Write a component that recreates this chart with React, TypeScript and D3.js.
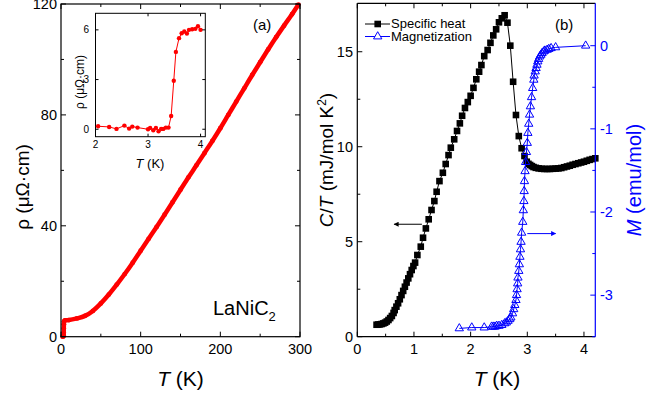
import React from 'react';
import * as d3 from 'd3';

// resistivity of LaNiC2, main panel (T in K, rho in µΩ·cm)
const rhoT = [2, 2.5, 3, 3.3, 3.4, 3.5, 3.6, 3.8, 5, 10, 20, 30, 40, 50, 60, 70, 80, 90, 100, 110, 120, 130, 140, 150, 160, 170, 180, 190, 200, 210, 220, 230, 240, 250, 260, 270, 280, 290, 298];
const rhoV = [0, 0.1, 0.2, 0.5, 1.5, 3, 4.5, 5.5, 5.9, 6.0, 6.6, 7.5, 9.3, 12.0, 15.2, 18.8, 22.6, 26.7, 31.0, 35.3, 39.6, 44.0, 48.5, 53.0, 57.5, 61.8, 66.2, 70.6, 75.2, 80.0, 84.8, 89.6, 94.4, 99.0, 103.6, 108.0, 112.2, 116.3, 119.8];

// inset: low temperature resistivity
const insetT = [2.05, 2.26, 2.40, 2.55, 2.64, 2.70, 2.80, 3.0, 3.04, 3.10, 3.15, 3.20, 3.25, 3.29, 3.34, 3.39, 3.44, 3.49, 3.53, 3.59, 3.64, 3.69, 3.74, 3.78, 3.84, 3.90, 3.95, 4.0];
const insetRho = [0.18, 0.14, 0.02, 0.22, 0.04, 0.16, 0.1, 0, 0.08, -0.06, 0.08, -0.12, 0.02, 0.02, 0.1, 0.1, 0.8, 2.93, 4.67, 5.5, 5.8, 5.9, 5.78, 6.0, 6.04, 6.06, 6.22, 6.0];

// specific heat C/T (mJ/mol K^2)
const heatT = [0.34, 0.37, 0.40, 0.43, 0.46, 0.49, 0.52, 0.55, 0.58, 0.61, 0.64, 0.66, 0.69, 0.72, 0.75, 0.78, 0.81, 0.84, 0.87, 0.90, 0.93, 0.96, 0.99, 1.02, 1.06, 1.12, 1.16, 1.21, 1.26, 1.31, 1.36, 1.40, 1.45, 1.51, 1.56, 1.61, 1.65, 1.71, 1.76, 1.81, 1.85, 1.90, 1.95, 2.00, 2.05, 2.10, 2.15, 2.19, 2.24, 2.30, 2.35, 2.40, 2.45, 2.50, 2.55, 2.60, 2.65, 2.70, 2.75, 2.80, 2.85, 2.90, 2.95, 2.99, 3.02, 3.05, 3.08, 3.11, 3.15, 3.20, 3.25, 3.30, 3.35, 3.40, 3.45, 3.50, 3.55, 3.60, 3.65, 3.70, 3.75, 3.80, 3.85, 3.90, 3.95, 4.00, 4.05, 4.10, 4.15, 4.20];
const heatC = [0.63, 0.64, 0.65, 0.67, 0.70, 0.74, 0.80, 0.88, 0.98, 1.09, 1.25, 1.40, 1.58, 1.76, 1.97, 2.19, 2.41, 2.63, 2.85, 3.07, 3.29, 3.51, 3.72, 3.90, 4.30, 4.74, 5.21, 5.70, 6.18, 6.67, 7.14, 7.63, 8.19, 8.63, 9.09, 9.56, 9.95, 10.39, 10.83, 11.23, 11.63, 12.04, 12.35, 12.68, 13.10, 13.55, 13.95, 14.30, 14.77, 15.09, 15.47, 15.86, 16.18, 16.55, 16.76, 16.92, 16.53, 15.32, 13.42, 11.67, 10.56, 9.92, 9.51, 9.21, 9.10, 9.04, 8.98, 8.93, 8.89, 8.86, 8.84, 8.83, 8.83, 8.83, 8.84, 8.85, 8.86, 8.88, 8.92, 8.96, 9.00, 9.05, 9.09, 9.13, 9.17, 9.21, 9.26, 9.31, 9.35, 9.39];

// magnetization (emu/mol)
const magT = [1.80, 2.02, 2.24, 2.37, 2.40, 2.43, 2.46, 2.50, 2.55, 2.60, 2.63, 2.66, 2.69, 2.71, 2.74, 2.76, 2.78, 2.80, 2.81, 2.82, 2.83, 2.835, 2.85, 2.86, 2.87, 2.88, 2.89, 2.90, 2.92, 2.93, 2.94, 2.945, 2.95, 2.96, 2.97, 2.985, 3.0, 3.01, 3.025, 3.04, 3.055, 3.075, 3.095, 3.115, 3.12, 3.14, 3.155, 3.17, 3.185, 3.20, 3.22, 3.24, 3.26, 3.29, 3.31, 3.35, 3.38, 3.42, 3.50, 4.03];
const magM = [-3.40, -3.39, -3.39, -3.38, -3.38, -3.38, -3.37, -3.37, -3.36, -3.34, -3.33, -3.31, -3.29, -3.27, -3.22, -3.17, -3.12, -3.06, -3.0, -2.93, -2.86, -2.79, -2.71, -2.63, -2.54, -2.45, -2.36, -2.25, -2.12, -1.98, -1.87, -1.75, -1.63, -1.51, -1.40, -1.28, -1.17, -1.05, -0.94, -0.83, -0.73, -0.62, -0.51, -0.41, -0.36, -0.31, -0.27, -0.23, -0.19, -0.16, -0.13, -0.11, -0.09, -0.07, -0.06, -0.05, -0.04, -0.03, -0.02, 0.0];

const FONT = "'Liberation Sans', Arial, Helvetica, sans-serif";
const BLUE = '#0000ff';
const RED = '#ff0000';

// scales
const xA = d3.scaleLinear().domain([0, 300]).range([61, 300]);
const yA = d3.scaleLinear().domain([0, 120]).range([336.7, 4]);
const xI = d3.scaleLinear().domain([2, 4.09]).range([95.5, 205.3]);
const yI = d3.scaleLinear().domain([-0.45, 7]).range([136.7, 13.3]);
const xB = d3.scaleLinear().domain([0, 4.2]).range([357.3, 595.3]);
const yC = d3.scaleLinear().domain([0, 17.55]).range([336.7, 3.3]);
const yM = d3.scaleLinear().domain([-3.5, 0.51]).range([336.7, 3.3]);

type Scale = d3.ScaleLinear<number, number>;

// inward ticks on one side of a frame
function Ticks({ scale, values, side, pos, len, color = '#000' }: { scale: Scale; values: number[]; side: 'b' | 't' | 'l' | 'r'; pos: number; len: number; color?: string }) {
  return (
    <g stroke={color} strokeWidth={1}>
      {values.map((v, i) => {
        const p = scale(v);
        if (side === 'b') return <line key={i} x1={p} x2={p} y1={pos} y2={pos - len} />;
        if (side === 't') return <line key={i} x1={p} x2={p} y1={pos} y2={pos + len} />;
        if (side === 'l') return <line key={i} x1={pos} x2={pos + len} y1={p} y2={p} />;
        return <line key={i} x1={pos} x2={pos - len} y1={p} y2={p} />;
      })}
    </g>
  );
}

export default function App() {
  const rhoPts = rhoT.map((t, i) => [t, rhoV[i]] as [number, number]);
  const insetPts = insetT.map((t, i) => [t, insetRho[i]] as [number, number]);
  const heatPts = heatT.map((t, i) => [t, heatC[i]] as [number, number]);
  const magPts = magT.map((t, i) => [t, magM[i]] as [number, number]);

  const rhoLine = d3.line<[number, number]>().x(d => xA(d[0])).y(d => yA(d[1])).curve(d3.curveMonotoneX);
  const insetLine = d3.line<[number, number]>().x(d => xI(d[0])).y(d => yI(d[1]));
  const heatLine = d3.line<[number, number]>().x(d => xB(d[0])).y(d => yC(d[1]));
  const magLine = d3.line<[number, number]>().x(d => xB(d[0])).y(d => yM(d[1]));
  const tri = d3.symbol().type(d3.symbolTriangle).size(30)() as string;

  const xAmaj = [0, 100, 200, 300];
  const xAmin = [50, 150, 250];
  const yAmaj = [0, 40, 80, 120];
  const yAmin = [20, 60, 100];
  const xBmaj = [0, 1, 2, 3, 4];
  const xBmin = [0.5, 1.5, 2.5, 3.5];
  const yCmaj = [0, 5, 10, 15];
  const yCmin = [2.5, 7.5, 12.5];
  const yMmaj = [0, -1, -2, -3];
  const yMmin = [-0.5, -1.5, -2.5, -3.5];

  const arrowL = { y: 5.92, x1: 1.14, x2: 0.65 };
  const arrowR = { y: -2.26, x1: 3.0, x2: 3.5 };

  return (
    <svg width={668} height={398} style={{ position: 'absolute', left: 0, top: 0, background: '#fff' }} fontFamily={FONT}>
      <defs>
        <marker id="ahK" viewBox="0 0 10 10" refX="9" refY="5" markerWidth="7" markerHeight="5" orient="auto">
          <path d="M0,0 L10,5 L0,10 z" fill="#000" />
        </marker>
        <marker id="ahB" viewBox="0 0 10 10" refX="9" refY="5" markerWidth="7" markerHeight="5" orient="auto">
          <path d="M0,0 L10,5 L0,10 z" fill={BLUE} />
        </marker>
      </defs>

      {/* ===== panel (a) ===== */}
      <path d={rhoLine(rhoPts) || ''} fill="none" stroke={RED} strokeWidth={4.5} />
      {rhoPts.map((d, i) => <circle key={i} cx={xA(d[0])} cy={yA(d[1])} r={2.4} fill={RED} />)}

      <rect x={61} y={4} width={239} height={332.7} fill="none" stroke="#000" strokeWidth={1.2} />
      <Ticks scale={xA} values={xAmaj} side="b" pos={336.7} len={5} />
      <Ticks scale={xA} values={xAmin} side="b" pos={336.7} len={3} />
      <Ticks scale={xA} values={xAmaj} side="t" pos={4} len={5} />
      <Ticks scale={xA} values={xAmin} side="t" pos={4} len={3} />
      <Ticks scale={yA} values={yAmaj} side="l" pos={61} len={5} />
      <Ticks scale={yA} values={yAmin} side="l" pos={61} len={3} />
      <Ticks scale={yA} values={yAmaj} side="r" pos={300} len={5} />
      <Ticks scale={yA} values={yAmin} side="r" pos={300} len={3} />
      <g fontSize={14.5} fill="#000">
        {xAmaj.map(v => <text key={v} x={xA(v)} y={353.5} textAnchor="middle">{v}</text>)}
        {yAmaj.map(v => <text key={v} x={57} y={yA(v) + 5} textAnchor="end">{v}</text>)}
      </g>
      <text x={180.5} y={386} textAnchor="middle" fontSize={21}><tspan fontStyle="italic">T</tspan> (K)</text>
      <text transform="translate(29,187) rotate(-90)" textAnchor="middle" fontSize={19}>ρ (μΩ·cm)</text>
      <text x={253} y={30} fontSize={15}>(a)</text>
      <text x={213} y={315} fontSize={20}>LaNiC<tspan fontSize={13} dy={6}>2</tspan></text>

      {/* inset */}
      <rect x={95.5} y={13.3} width={109.8} height={123.4} fill="#fff" stroke="#000" strokeWidth={1} />
      <path d={insetLine(insetPts) || ''} fill="none" stroke={RED} strokeWidth={1} />
      {insetPts.map((d, i) => <circle key={i} cx={xI(d[0])} cy={yI(d[1])} r={2.2} fill={RED} />)}
      <Ticks scale={xI} values={[2, 3, 4]} side="b" pos={136.7} len={3} />
      <Ticks scale={xI} values={[2, 3, 4]} side="t" pos={13.3} len={3} />
      <Ticks scale={yI} values={[0, 3, 6]} side="l" pos={95.5} len={3} />
      <Ticks scale={yI} values={[0, 3, 6]} side="r" pos={205.3} len={3} />
      <g fontSize={10} fill="#000">
        {[2, 3, 4].map(v => <text key={v} x={xI(v)} y={148} textAnchor="middle">{v}</text>)}
        {[0, 3, 6].map(v => <text key={v} x={89} y={yI(v) + 3.5} textAnchor="end">{v}</text>)}
      </g>
      <text x={150} y={168} textAnchor="middle" fontSize={13}><tspan fontStyle="italic">T</tspan> (K)</text>
      <text transform="translate(84,82) rotate(-90)" textAnchor="middle" fontSize={12}>ρ (μΩ·cm)</text>

      {/* ===== panel (b) ===== */}
      <path d={heatLine(heatPts) || ''} fill="none" stroke="#000" strokeWidth={1} />
      {heatPts.map((d, i) => <rect key={i} x={xB(d[0]) - 3.3} y={yC(d[1]) - 3.3} width={6.6} height={6.6} fill="#000" />)}
      <path d={magLine(magPts) || ''} fill="none" stroke={BLUE} strokeWidth={1} />
      {magPts.map((d, i) => <path key={i} d={tri} transform={`translate(${xB(d[0])},${yM(d[1])})`} fill="none" stroke={BLUE} strokeWidth={1} />)}

      <line x1={357.3} x2={357.3} y1={3.3} y2={336.7} stroke="#000" strokeWidth={1.2} />
      <line x1={357.3} x2={595.3} y1={3.3} y2={3.3} stroke="#000" strokeWidth={1.2} />
      <line x1={357.3} x2={595.3} y1={336.7} y2={336.7} stroke="#000" strokeWidth={1.2} />
      <line x1={595.3} x2={595.3} y1={3.3} y2={336.7} stroke={BLUE} strokeWidth={1.2} />
      <Ticks scale={xB} values={xBmaj} side="b" pos={336.7} len={5} />
      <Ticks scale={xB} values={xBmin} side="b" pos={336.7} len={3} />
      <Ticks scale={xB} values={xBmaj} side="t" pos={3.3} len={5} />
      <Ticks scale={xB} values={xBmin} side="t" pos={3.3} len={3} />
      <Ticks scale={yC} values={yCmaj} side="l" pos={357.3} len={5} />
      <Ticks scale={yC} values={yCmin} side="l" pos={357.3} len={3} />
      <Ticks scale={yM} values={yMmaj} side="r" pos={595.3} len={5} color={BLUE} />
      <Ticks scale={yM} values={yMmin} side="r" pos={595.3} len={3} color={BLUE} />
      <g fontSize={14.5} fill="#000">
        {xBmaj.map(v => <text key={v} x={xB(v)} y={353.5} textAnchor="middle">{v}</text>)}
        {yCmaj.map(v => <text key={v} x={353} y={yC(v) + 5} textAnchor="end">{v}</text>)}
      </g>
      <g fontSize={14.5} fill={BLUE}>
        {yMmaj.map(v => <text key={v} x={600} y={yM(v) + 5} textAnchor="start">{v === 0 ? '0' : `-${-v}`}</text>)}
      </g>
      <text x={497} y={386} textAnchor="middle" fontSize={21}><tspan fontStyle="italic">T</tspan> (K)</text>
      <text transform="translate(333,160) rotate(-90)" textAnchor="middle" fontSize={19}>
        <tspan fontStyle="italic">C</tspan>/<tspan fontStyle="italic">T</tspan> (mJ/mol K<tspan fontSize={12} dy={-7}>2</tspan><tspan dy={7}>)</tspan>
      </text>
      <text transform="translate(641,180) rotate(-90)" textAnchor="middle" fontSize={20} fill={BLUE}>
        <tspan fontStyle="italic">M</tspan> (emu/mol)
      </text>
      <text x={555} y={30} fontSize={15}>(b)</text>

      {/* arrows */}
      <line x1={xB(arrowL.x1)} x2={xB(arrowL.x2)} y1={yC(arrowL.y)} y2={yC(arrowL.y)} stroke="#000" strokeWidth={1} markerEnd="url(#ahK)" />
      <line x1={xB(arrowR.x1)} x2={xB(arrowR.x2)} y1={yM(arrowR.y)} y2={yM(arrowR.y)} stroke={BLUE} strokeWidth={1} markerEnd="url(#ahB)" />

      {/* legend */}
      <line x1={365} x2={390} y1={24} y2={24} stroke="#000" strokeWidth={1} />
      <rect x={374.4} y={20.7} width={6.6} height={6.6} fill="#000" />
      <text x={391} y={28} fontSize={13}>Specific heat</text>
      <line x1={365} x2={390} y1={36.5} y2={36.5} stroke={BLUE} strokeWidth={1} />
      <path d={tri} transform="translate(377.7,36.5)" fill="#fff" stroke={BLUE} strokeWidth={1} />
      <text x={391} y={41} fontSize={13}>Magnetization</text>
    </svg>
  );
}
